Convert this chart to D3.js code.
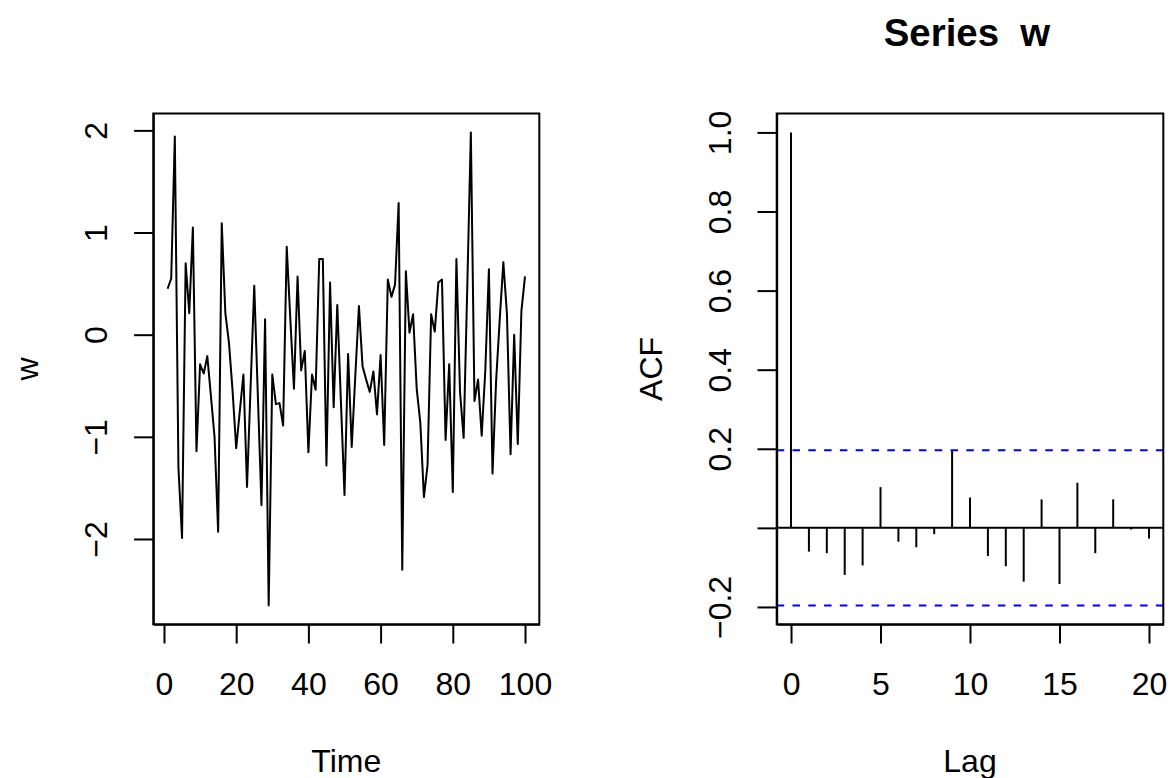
<!DOCTYPE html>
<html>
<head>
<meta charset="utf-8">
<script src="https://cdn.jsdelivr.net/npm/d3@7"></script>
<style>
  body { margin: 0; background: #fff; }
  svg { display: block; font-family: "Liberation Sans", Arial, Helvetica, sans-serif; }
</style>
</head>
<body>
<svg></svg>
<script>
// series w (t = 1..100)
const w = [
   0.45,  0.55,  1.94, -1.30, -1.99,  0.70,  0.21,  1.05, -1.14, -0.29,
  -0.38, -0.21, -0.60, -1.00, -1.93,  1.09,  0.21, -0.08, -0.55, -1.11,
  -0.75, -0.39, -1.49, -0.50,  0.48, -0.60, -1.67,  0.15, -2.65, -0.39,
  -0.68, -0.67, -0.89,  0.86,  0.15, -0.53,  0.57, -0.35, -0.16, -1.15,
  -0.39, -0.54,  0.74,  0.74, -1.28,  0.51, -0.71,  0.29, -0.65, -1.57,
  -0.19, -1.10, -0.40,  0.28, -0.31, -0.44, -0.56, -0.36, -0.78, -0.20,
  -1.08,  0.54,  0.37,  0.49,  1.29, -2.30,  0.62,  0.02,  0.20, -0.53,
  -0.86, -1.59, -1.28,  0.20,  0.03,  0.51,  0.54, -1.03, -0.29, -1.54,
   0.74, -0.56, -1.01,  0.45,  1.98, -0.65, -0.44, -0.99, -0.35,  0.64,
  -1.36, -0.45,  0.15,  0.71,  0.20, -1.17,  0.00, -1.07,  0.23,  0.57
]
// sample ACF of w, lags 0..20
const acfValues = [
  1.000, -0.060, -0.064, -0.119, -0.095, 0.103, -0.035, -0.049, -0.016, 0.196,
  0.077, -0.071, -0.097, -0.136, 0.072, -0.142, 0.114, -0.064, 0.072, -0.004, -0.027
]
const timeTicks = [0, 20, 40, 60, 80, 100]
const wTicks = [-2, -1, 0, 1, 2]
const lagTicks = [0, 5, 10, 15, 20]
const acfTicks = [-0.2, 0, 0.2, 0.4, 0.6, 0.8, 1.0]
const acfTickLabels = ['\u22120.2', '', '0.2', '0.4', '0.6', '0.8', '1.0']

// layout
let width = 1170
let height = 778
let fontSize = 32
let lineW = 2
let tickLen = 19.2
let plotTop = 113.5
let plotBottom = 624.3
let leftX0 = 153.3, leftX1 = 539.3
let rightX0 = 776.7, rightX1 = 1163.3

// 95% bound drawn by acf()
const ciBound = 1.96 / Math.sqrt(w.length)

let svg = d3.select('svg').attr('width', width).attr('height', height)
svg.append('rect').attr('width', width).attr('height', height).attr('fill', '#fff')

// R style range: data range stretched by 4% each side
let pad = ext => {
  let d = (ext[1] - ext[0]) * 0.04
  return [ext[0] - d, ext[1] + d]
}

let xTime = d3.scaleLinear().domain(pad([1, w.length])).range([leftX0, leftX1])
let yW = d3.scaleLinear().domain(pad(d3.extent(w))).range([plotBottom, plotTop])
let xLag = d3.scaleLinear().domain(pad([0, acfValues.length - 1])).range([rightX0, rightX1])
let yAcf = d3.scaleLinear().domain(pad(d3.extent(acfValues.concat([-ciBound, ciBound])))).range([plotBottom, plotTop])

let drawBottomAxis = (scale, ticks, fmt) => {
  let g = svg.append('g')
    .attr('transform', 'translate(0,' + plotBottom + ')')
    .call(d3.axisBottom(scale).tickValues(ticks).tickFormat(fmt)
      .tickSizeInner(tickLen).tickSizeOuter(0))
  g.selectAll('path, line').attr('stroke', '#000').attr('stroke-width', lineW)
  g.selectAll('text')
    .attr('y', 695 - plotBottom).attr('dy', null)
    .attr('fill', '#000').style('font-size', fontSize + 'px').style('font-family', 'inherit')
}

let drawLeftAxis = (scale, x0, ticks, fmt) => {
  let g = svg.append('g')
    .attr('transform', 'translate(' + x0 + ',0)')
    .call(d3.axisLeft(scale).tickValues(ticks).tickFormat(fmt)
      .tickSizeInner(tickLen).tickSizeOuter(0))
  g.selectAll('path, line').attr('stroke', '#000').attr('stroke-width', lineW)
  g.selectAll('text')
    .attr('x', null).attr('dy', null)
    .attr('text-anchor', 'middle')
    .attr('transform', 'translate(-46,0) rotate(-90)')
    .attr('fill', '#000').style('font-size', fontSize + 'px').style('font-family', 'inherit')
}

let drawBox = (x0, x1) => {
  svg.append('rect')
    .attr('x', x0).attr('y', plotTop)
    .attr('width', x1 - x0).attr('height', plotBottom - plotTop)
    .attr('fill', 'none').attr('stroke', '#000').attr('stroke-width', lineW)
}

let addText = (txt, x, y, rot, opts = {}) => {
  svg.append('text')
    .attr('transform', 'translate(' + x + ',' + y + ')' + (rot ? ' rotate(-90)' : ''))
    .attr('text-anchor', 'middle')
    .style('font-size', (opts.size || fontSize) + 'px')
    .style('font-weight', opts.bold ? 'bold' : 'normal')
    .style('white-space', 'pre')
    .text(txt)
}

// ---- left: time plot ----
let line = d3.line().x((d, i) => xTime(i + 1)).y(d => yW(d))
svg.append('path')
  .datum(w)
  .attr('d', line)
  .attr('fill', 'none').attr('stroke', '#000')
  .attr('stroke-width', lineW).attr('stroke-linejoin', 'round')

drawBox(leftX0, leftX1)
drawBottomAxis(xTime, timeTicks, d3.format('d'))
drawLeftAxis(yW, leftX0, wTicks, d3.format('d'))
addText('Time', (leftX0 + leftX1) / 2, 771.5)
addText('w', leftX0 - 115, (plotTop + plotBottom) / 2, true)

// ---- right: ACF ----
let midY = (plotTop + plotBottom) / 2
svg.append('line')
  .attr('x1', rightX0).attr('x2', rightX1)
  .attr('y1', yAcf(0)).attr('y2', yAcf(0))
  .attr('stroke', '#000').attr('stroke-width', lineW)

svg.selectAll('line.bar')
  .data(acfValues)
  .enter()
  .append('line')
  .attr('class', 'bar')
  .attr('x1', (d, i) => xLag(i)).attr('x2', (d, i) => xLag(i))
  .attr('y1', yAcf(0)).attr('y2', d => yAcf(d))
  .attr('stroke', '#000').attr('stroke-width', lineW)

svg.selectAll('line.ci')
  .data([ciBound, -ciBound])
  .enter()
  .append('line')
  .attr('class', 'ci')
  .attr('x1', rightX0).attr('x2', rightX1)
  .attr('y1', d => yAcf(d)).attr('y2', d => yAcf(d))
  .attr('stroke', '#0000ff').attr('stroke-width', lineW)
  .attr('stroke-dasharray', '7.5,8.3')

drawBox(rightX0, rightX1)
drawBottomAxis(xLag, lagTicks, d3.format('d'))
drawLeftAxis(yAcf, rightX0, acfTicks, (d, i) => acfTickLabels[i])
addText('Lag', (rightX0 + rightX1) / 2, 771.5)
addText('ACF', rightX0 - 115, midY, true)
addText('Series  w', (rightX0 + rightX1) / 2 - 3, 46, false, {size: 38.4, bold: true})
</script>
</body>
</html>
